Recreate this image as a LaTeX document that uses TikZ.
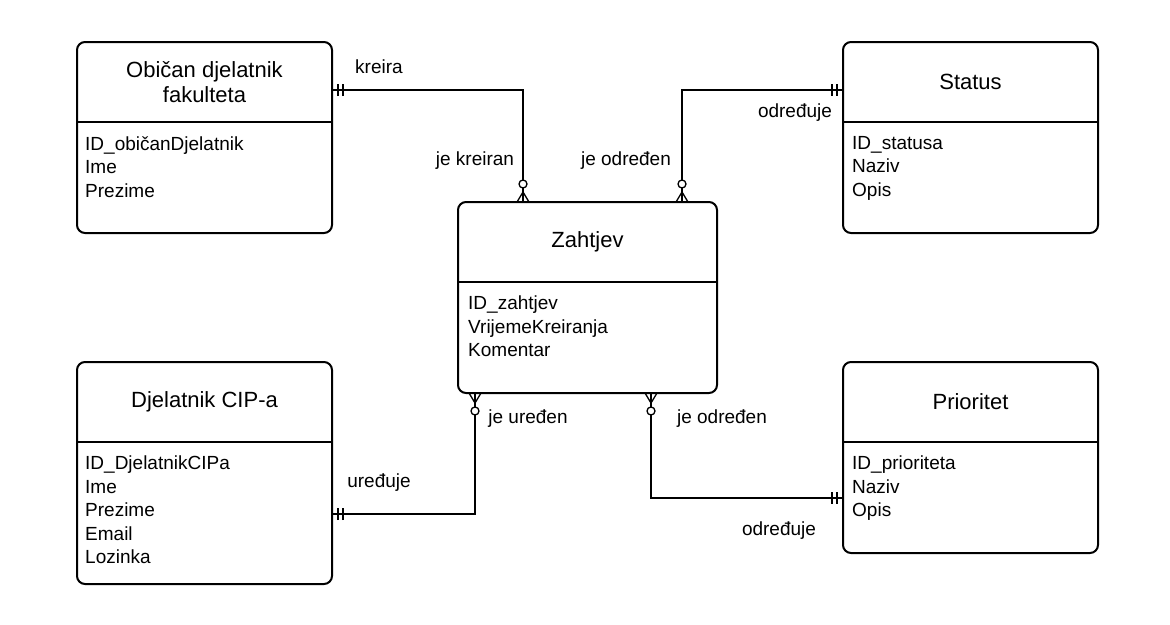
\documentclass[tikz,border=0pt]{standalone}
\usepackage{fontspec}
\setmainfont{Liberation Sans}
\usetikzlibrary{calc}
\tikzset{
  ent/.style={draw, line width=2pt, rounded corners=8pt, minimum width=255pt, inner sep=0pt, outer sep=0pt},
  divider/.style={line width=2pt},
  hdr/.style={font=\fontsize{22}{25}\selectfont, align=center, inner sep=0pt},
  attr/.style={font=\fontsize{19}{23.5}\selectfont, align=left, anchor=north west, inner sep=0pt},
  lbl/.style={font=\fontsize{19}{23}\selectfont, inner sep=0pt},
  conn/.style={line width=1.3pt},
  onebar/.pic={\draw[line width=1.3pt] (6pt,-6pt) -- (6pt,6pt) (11pt,-6pt) -- (11pt,6pt);},
  zmany/.pic={\draw[line width=1.3pt] (0pt,-6pt) -- (10pt,0pt) -- (0pt,6pt) (0pt,0pt) -- (10pt,0pt);
              \draw[line width=1.3pt, fill=white] (18pt,0pt) circle (4pt);}
}
\begin{document}
\begin{tikzpicture}[x=1pt,y=-1pt]
\useasboundingbox[fill=white] (0,0) rectangle (1170,624);

% entities
\node[ent, minimum height=191pt] (ob) at (204.5,137.5) {};
\node[ent, minimum height=191pt] (st) at (970.5,137.5) {};
\node[ent, minimum height=191pt, minimum width=259pt] (za) at (587.5,297.5) {};
\node[ent, minimum height=222pt] (cip) at (204.5,473) {};
\node[ent, minimum height=191pt] (pr) at (970.5,457.5) {};

\foreach \e in {ob,st,za,cip,pr}{
  \draw[divider] ($(\e.north west)+(0,80)$) -- ($(\e.north east)+(0,80)$);
}

% headers
\node[hdr] (obh) at ($(ob.north)+(0,40)$) {Običan djelatnik\\fakulteta};
\node[hdr] (sth) at ($(st.north)+(0,40)$) {Status};
\node[hdr] (zah) at ($(za.north)+(0,40)$) {Zahtjev};
\node[hdr] (ciph) at ($(cip.north)+(0,40)$) {Djelatnik CIP-a};
\node[hdr] (prh) at ($(pr.north)+(0,40)$) {Prioritet};

% attributes
\node[attr] (oba) at ($(ob.north west)+(8,94)$) {ID\_običanDjelatnik\\Ime\\Prezime};
\node[attr] (sta) at ($(st.north west)+(9,94)$) {ID\_statusa\\Naziv\\Opis};
\node[attr] (zaa) at ($(za.north west)+(10,94)$) {ID\_zahtjev\\VrijemeKreiranja\\Komentar};
\node[attr] (cipa) at ($(cip.north west)+(8,94)$) {ID\_DjelatnikCIPa\\Ime\\Prezime\\Email\\Lozinka};
\node[attr] (pra) at ($(pr.north west)+(9,94)$) {ID\_prioriteta\\Naziv\\Opis};

% connector end points
\coordinate (c1a) at ($(ob.north east)+(0,48)$);
\coordinate (c1b) at ($(za.north west)+(65,0)$);
\coordinate (c2a) at ($(st.north west)+(0,48)$);
\coordinate (c2b) at ($(za.north west)+(224,0)$);
\coordinate (c3a) at ($(cip.north east)+(0,152)$);
\coordinate (c3b) at ($(za.south west)+(17,0)$);
\coordinate (c4a) at ($(pr.north west)+(0,136)$);
\coordinate (c4b) at ($(za.south west)+(193,0)$);

\draw[conn] (c1a) -| (c1b);
\draw[conn] (c2a) -| (c2b);
\draw[conn] (c3a) -| (c3b);
\draw[conn] (c4a) -| (c4b);

% markers
\pic at (c1a) {onebar};
\pic[rotate=180] at (c2a) {onebar};
\pic at (c3a) {onebar};
\pic[rotate=180] at (c4a) {onebar};
\pic[rotate=90] at (c1b) {zmany};
\pic[rotate=90] at (c2b) {zmany};
\pic[rotate=-90] at (c3b) {zmany};
\pic[rotate=-90] at (c4b) {zmany};

% labels
\node[lbl] (l1) at (379,67) {kreira};
\node[lbl] (l2) at (475,161) {je kreiran};
\node[lbl] (l3) at (626,161) {je određen};
\node[lbl] (l4) at (795,113) {određuje};
\node[lbl] (l5) at (528,419) {je uređen};
\node[lbl] (l6) at (379,483) {uređuje};
\node[lbl] (l7) at (722,419) {je određen};
\node[lbl] (l8) at (779,531) {određuje};
\end{tikzpicture}
\end{document}
